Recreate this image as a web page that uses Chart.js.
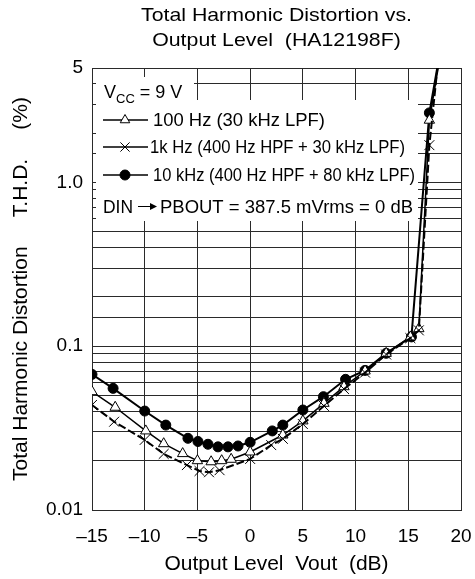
<!DOCTYPE html>
<html>
<head>
<meta charset="utf-8">
<script src="https://cdn.jsdelivr.net/npm/chart.js@4.4.1/dist/chart.umd.min.js"></script>
<style>
  html, body { margin: 0; padding: 0; background: #fff; }
</style>
</head>
<body>
<canvas id="thd" width="475" height="579"></canvas>
<script>
// valores (x = Vout dB, y = THD %)
const hz100X = [-15, -12.8, -9.9, -8.2, -6.4, -5, -3.7, -2.7, -1.8, 0, 3.1, 5, 7, 8.9, 10.9, 12.9, 15.2, 16, 17, 18];
const hz100Y = [0.0528, 0.0424, 0.0304, 0.0254, 0.0221, 0.0200, 0.0197, 0.0200, 0.0204, 0.0226, 0.0287, 0.0350, 0.0448, 0.0566, 0.0706, 0.0905, 0.114, 0.128, 2.40, 5.8];

const hz1kX = [-15, -12.9, -10, -8.2, -6, -4.8, -3.9, -2.9, 0, 2, 3.1, 5, 7, 8.9, 10.9, 12.9, 15.2, 16, 17, 18];
const hz1kY = [0.0438, 0.0346, 0.0268, 0.0220, 0.0188, 0.0173, 0.0170, 0.0175, 0.0205, 0.0249, 0.0272, 0.0335, 0.0432, 0.0548, 0.0690, 0.0890, 0.112, 0.125, 1.69, 7.0];

const hz10kX = [-15, -13, -10, -8, -5.9, -4.95, -4, -3.05, -2.1, -1.15, 0, 2.1, 3.1, 5, 6.95, 9.05, 10.9, 12.9, 15.3, 17, 18];
const hz10kY = [0.0673, 0.0553, 0.0402, 0.0330, 0.0274, 0.0262, 0.0252, 0.0243, 0.0243, 0.0246, 0.0259, 0.0304, 0.0330, 0.0408, 0.0492, 0.0628, 0.0712, 0.0905, 0.114, 2.66, 6.2];

const seriesLabels = ['100 Hz (30 kHz LPF)', '1k Hz (400 Hz HPF + 30 kHz LPF)', '10 kHz (400 Hz HPF + 80 kHz LPF)'];
const yTickLabels = {0.01: '0.01', 0.1: '0.1', 1: '1.0', 5: '5'};
const titleLines = ['Total Harmonic Distortion vs.', 'Output Level  (HA12198F)'];

const FONT = '"Liberation Sans", Arial, sans-serif';
Chart.defaults.font.family = FONT;
Chart.defaults.color = '#000';

function pairs(xs, ys) {
  return xs.map((x, i) => ({ x: x, y: ys[i] }));
}
// esconde o ponto que sai pelo topo
function lastHidden(xs, r) {
  return c => c.dataIndex === xs.length - 1 ? 0 : r;
}
// texto esticado/encolhido até a largura pedida
function fitText(ctx, text, x, y, width) {
  const sx = width / ctx.measureText(text).width;
  ctx.save();
  ctx.translate(x, y);
  ctx.scale(sx, 1);
  ctx.fillText(text, 0, 0);
  ctx.restore();
}

// titulo centrado sobre a area do grafico
const headerText = {
  id: 'headerText',
  afterDraw(chart) {
    const ctx = chart.ctx;
    const cx = (chart.chartArea.left + chart.chartArea.right) / 2;
    ctx.save();
    ctx.fillStyle = '#000';
    ctx.font = '19px ' + FONT;
    ctx.textAlign = 'center';
    ctx.textBaseline = 'middle';
    const sx = 271 / ctx.measureText(titleLines[0]).width;
    [16, 41].forEach((y, i) => {
      ctx.save();
      ctx.translate(cx, y);
      ctx.scale(sx, 1);
      ctx.fillText(titleLines[i], 0, 0);
      ctx.restore();
    });
    ctx.restore();
  }
};

// caixa de legenda com fundo branco
const legendBox = {
  id: 'legendBox',
  beforeDatasetsDraw(chart) {
    const ctx = chart.ctx;
    ctx.save();
    ctx.fillStyle = '#fff';
    ctx.fillRect(96, 77, 98, 24);
    ctx.fillRect(96, 100, 322, 121);

    ctx.fillStyle = '#000';
    ctx.textAlign = 'left';
    ctx.textBaseline = 'alphabetic';
    ctx.font = '18px ' + FONT;
    ctx.fillText('V', 104, 98);
    let x = 104 + ctx.measureText('V').width;
    ctx.font = '13px ' + FONT;
    ctx.fillText('CC', x, 103);
    x += ctx.measureText('CC').width;
    ctx.font = '18px ' + FONT;
    ctx.fillText(' = 9 V', x, 98);

    const rowY = [120, 147, 175];
    const textX = [153, 150, 153];
    const textW = [172, 255, 262];
    chart.data.datasets.forEach((ds, i) => {
      const y = rowY[i];
      ctx.strokeStyle = '#000';
      ctx.lineWidth = 1.3;
      ctx.setLineDash([]);
      ctx.beginPath();
      ctx.moveTo(103, y);
      ctx.lineTo(148, y);
      ctx.stroke();
      ctx.fillStyle = ds.pointBackgroundColor;
      ctx.lineWidth = 1;
      Chart.helpers.drawPoint(ctx, {
        pointStyle: ds.pointStyle,
        radius: ds.legendRadius,
        rotation: 0,
        borderWidth: 1
      }, 125, y);
      ctx.fillStyle = '#000';
      ctx.font = '18px ' + FONT;
      fitText(ctx, ds.label, textX[i], y + 6, textW[i]);
    });

    // DIN -> PBOUT
    ctx.font = '18px ' + FONT;
    fitText(ctx, 'DIN', 103, 213, 30);
    ctx.strokeStyle = '#000';
    ctx.lineWidth = 1;
    ctx.beginPath();
    ctx.moveTo(138, 206.5);
    ctx.lineTo(151, 206.5);
    ctx.stroke();
    ctx.beginPath();
    ctx.moveTo(157, 206.5);
    ctx.lineTo(150, 203);
    ctx.lineTo(150, 210);
    ctx.closePath();
    ctx.fill();
    fitText(ctx, 'PBOUT = 387.5 mVrms = 0 dB', 160, 213, 253);
    ctx.restore();
  }
};

const gridColor = '#2a2a2a';

new Chart(document.getElementById('thd').getContext('2d'), {
  type: 'line',
  data: {
    datasets: [
      {
        label: seriesLabels[0],
        data: pairs(hz100X, hz100Y),
        borderColor: '#000',
        borderWidth: 1.5,
        pointStyle: 'triangle',
        pointRadius: lastHidden(hz100X, 6),
        legendRadius: 5.5,
        pointBackgroundColor: '#fff',
        pointBorderColor: '#000',
        pointBorderWidth: 1,
        order: 2
      },
      {
        label: seriesLabels[1],
        data: pairs(hz1kX, hz1kY),
        borderColor: '#000',
        borderWidth: 2,
        borderDash: [8, 3],
        pointStyle: 'crossRot',
        pointRadius: lastHidden(hz1kX, 7),
        legendRadius: 6.5,
        pointBackgroundColor: '#fff',
        pointBorderColor: '#000',
        pointBorderWidth: 1,
        order: 1
      },
      {
        label: seriesLabels[2],
        data: pairs(hz10kX, hz10kY),
        borderColor: '#000',
        borderWidth: 2,
        pointStyle: 'circle',
        pointRadius: lastHidden(hz10kX, 5),
        legendRadius: 5,
        pointBackgroundColor: '#000',
        pointBorderColor: '#000',
        pointBorderWidth: 1,
        order: 3
      }
    ]
  },
  options: {
    responsive: false,
    animation: false,
    parsing: false,
    layout: { padding: { top: 68, right: 14, bottom: 0, left: 0 } },
    elements: { line: { tension: 0 } },
    plugins: {
      legend: { display: false },
      tooltip: { enabled: false }
    },
    scales: {
      x: {
        type: 'linear',
        min: -15,
        max: 20,
        // altura fixa, sem folga lateral extra dos rótulos
        afterFit: s => { s.height = 69; s.paddingLeft = 0; s.paddingRight = 0; },
        ticks: {
          stepSize: 5,
          padding: 15,
          font: { size: 19 },
          color: '#000',
          callback: v => v < 0 ? '\u2013' + Math.abs(v) : String(v)
        },
        grid: { color: gridColor, lineWidth: 1, drawTicks: false },
        border: { color: gridColor },
        title: {
          display: true,
          text: 'Output Level  Vout  (dB)',
          font: { size: 21 },
          color: '#000',
          padding: { top: 4, bottom: 2 }
        }
      },
      y: {
        type: 'logarithmic',
        min: 0.01,
        max: 5,
        afterFit: s => { s.width = 92; s.paddingTop = 0; s.paddingBottom = 0; },
        ticks: {
          autoSkip: false,
          padding: 9,
          font: { size: 19 },
          color: '#000',
          callback: v => {
            for (const k in yTickLabels) {
              if (Math.abs(v - Number(k)) < 1e-9) return yTickLabels[k];
            }
            return '';
          }
        },
        grid: { color: gridColor, lineWidth: 1, drawTicks: false },
        border: { color: gridColor },
        title: {
          display: true,
          text: 'Total Harmonic Distortion     T.H.D.     (%)',
          font: { size: 21 },
          color: '#000',
          padding: { top: 9, bottom: 0 }
        }
      }
    }
  },
  plugins: [legendBox, headerText]
});
</script>
</body>
</html>
